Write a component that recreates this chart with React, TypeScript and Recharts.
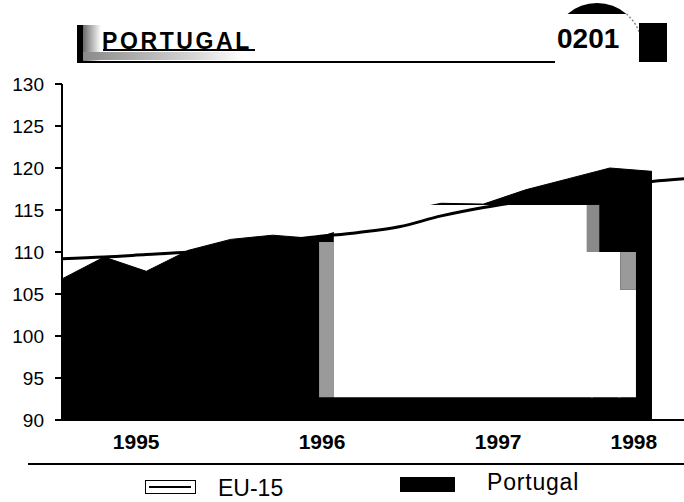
import React from 'react';
import { ComposedChart, Area, Line, XAxis, YAxis, ReferenceArea } from 'recharts';

// Quarterly observations, 1995 Q1 .. 1998 Q4
const quarters = [
  '1995 Q1', '1995 Q2', '1995 Q3', '1995 Q4',
  '1996 Q1', '1996 Q2', '1996 Q3', '1996 Q4',
  '1997 Q1', '1997 Q2', '1997 Q3', '1997 Q4',
  '1998 Q1', '1998 Q2', '1998 Q3', '1998 Q4',
];
const eu15 = [109.2, 109.4, 109.7, 110.0, 110.6, 111.2, 111.8, 112.3, 113.0, 114.3, 115.3, 116.1, 116.9, 117.7, 118.4, 118.8];
const portugal: (number | null)[] = [106.8, 109.4, 107.7, 110.2, 111.5, 112.0, 111.6, 113.2, 114.8, 115.8, 115.7, 117.4, 118.7, 120.0, 119.6, null];

const yearLabels = ['1995', '1996', '1997', '1998'];
const yearLabelAt = [1.76, 6.17, 10.35, 13.57];
const yTicks = [90, 95, 100, 105, 110, 115, 120, 125, 130];
const seriesNames = ['EU-15', 'Portugal'];
const chartTitle = 'PORTUGAL';
const pageCode = '0201';

// light patches from the scanned original (in data units)
const scanPatches = [
  { x1: 6.1, x2: 6.45, y1: 92.7, y2: 111.2, fill: '#9a9a9a' },
  { x1: 6.45, x2: 12.6, y1: 92.7, y2: 115.6, fill: '#ffffff' },
  { x1: 12.45, x2: 12.75, y1: 110.0, y2: 115.6, fill: '#8a8a8a' },
  { x1: 12.55, x2: 13.25, y1: 92.7, y2: 110.0, fill: '#ffffff' },
  { x1: 13.2, x2: 13.62, y1: 92.7, y2: 105.5, fill: '#ffffff' },
  { x1: 13.25, x2: 13.62, y1: 105.5, y2: 110.0, fill: '#9a9a9a' },
];

const data = quarters.map((q, i) => ({ i, q, eu: eu15[i], pt: portugal[i] }));

const FONT = '"Liberation Sans", Arial, Helvetica, sans-serif';

export default function App() {
  return (
    <div style={{ position: 'absolute', left: 0, top: 0, width: 684, height: 502, background: '#fff', overflow: 'hidden', fontFamily: FONT, color: '#000' }}>
      {/* header */}
      <div style={{ position: 'absolute', left: 77, top: 25, width: 6, height: 37, background: '#000' }} />
      <div style={{ position: 'absolute', left: 83, top: 25, width: 18, height: 37, background: 'linear-gradient(90deg, #6a6a6a, #ffffff)' }} />
      <div style={{ position: 'absolute', left: 83, top: 52, width: 160, height: 8, background: 'linear-gradient(90deg, #8a8a8a, #d6d6d6 70%, #ffffff)' }} />
      <div style={{ position: 'absolute', left: 102, top: 30, fontWeight: 'bold', fontSize: 23, lineHeight: '23px', letterSpacing: 2.6, whiteSpace: 'nowrap' }}>{chartTitle}</div>
      <div style={{ position: 'absolute', left: 103, top: 49, width: 152, height: 2, background: '#000' }} />
      <div style={{ position: 'absolute', left: 77, top: 61, width: 478, height: 2, background: '#000' }} />
      <svg style={{ position: 'absolute', left: 0, top: 0 }} width={684} height={80}>
        <path d="M 567.5 14 A 45 45 0 0 1 626.5 14 Z" fill="#000" />
        <path d="M 626.5 14 A 45 45 0 0 1 642 52" fill="none" stroke="#888" strokeWidth={1.5} strokeDasharray="2 2" />
      </svg>
      <div style={{ position: 'absolute', left: 557, top: 25, fontWeight: 'bold', fontSize: 28, lineHeight: '28px', whiteSpace: 'nowrap' }}>{pageCode}</div>
      <div style={{ position: 'absolute', left: 639, top: 23, width: 28, height: 39, background: '#000' }} />

      <div style={{ position: 'absolute', left: 0, top: 0 }}>
        <ComposedChart width={684} height={502} data={data} margin={{ top: 84, right: 0, bottom: 52, left: 0 }}>
          <XAxis
            dataKey="i"
            type="number"
            domain={[0, 14.76]}
            allowDataOverflow
            ticks={yearLabelAt}
            interval={0}
            tickFormatter={(v: number) => yearLabels[yearLabelAt.indexOf(v)] ?? ''}
            tickLine={false}
            tickSize={6}
            tickMargin={8}
            height={30}
            axisLine={{ stroke: '#000', strokeWidth: 2 }}
            tick={{ fontSize: 21, fontWeight: 'bold', fill: '#000', fontFamily: FONT }}
          />
          <YAxis
            type="number"
            domain={[90, 130]}
            ticks={yTicks}
            interval={0}
            width={62}
            tickSize={7}
            tickMargin={11}
            axisLine={{ stroke: '#000', strokeWidth: 2 }}
            tickLine={{ stroke: '#000', strokeWidth: 2 }}
            tick={{ fontSize: 19, fill: '#000', fontFamily: FONT }}
          />
          <Area
            dataKey="pt"
            name={seriesNames[1]}
            type="linear"
            baseValue={90}
            fill="#000"
            fillOpacity={1}
            stroke="#000"
            strokeWidth={1}
            dot={false}
            activeDot={false}
            isAnimationActive={false}
          />
          {scanPatches.map((p, k) => (
            <ReferenceArea key={k} x1={p.x1} x2={p.x2} y1={p.y1} y2={p.y2} fill={p.fill} fillOpacity={1} stroke="none" ifOverflow="hidden" zIndex={150} />
          ))}
          <Line
            dataKey="eu"
            name={seriesNames[0]}
            type="monotone"
            stroke="#000"
            strokeWidth={3}
            dot={false}
            activeDot={false}
            isAnimationActive={false}
          />
        </ComposedChart>
      </div>

      {/* separator + legend */}
      <div style={{ position: 'absolute', left: 28, top: 463, width: 656, height: 2, background: '#000' }} />
      <div style={{ position: 'absolute', left: 145, top: 480, width: 49, height: 12, border: '1.5px solid #000', background: '#fff' }}>
        <div style={{ position: 'absolute', left: 3, top: 5, width: 42, height: 2, background: '#000' }} />
      </div>
      <div style={{ position: 'absolute', left: 218, top: 477, fontSize: 23, lineHeight: '23px', whiteSpace: 'nowrap' }}>{seriesNames[0]}</div>
      <div style={{ position: 'absolute', left: 400, top: 477, width: 55, height: 15, background: '#000' }} />
      <div style={{ position: 'absolute', left: 487, top: 471, fontSize: 23, lineHeight: '23px', letterSpacing: 0.8, whiteSpace: 'nowrap' }}>{seriesNames[1]}</div>
    </div>
  );
}
